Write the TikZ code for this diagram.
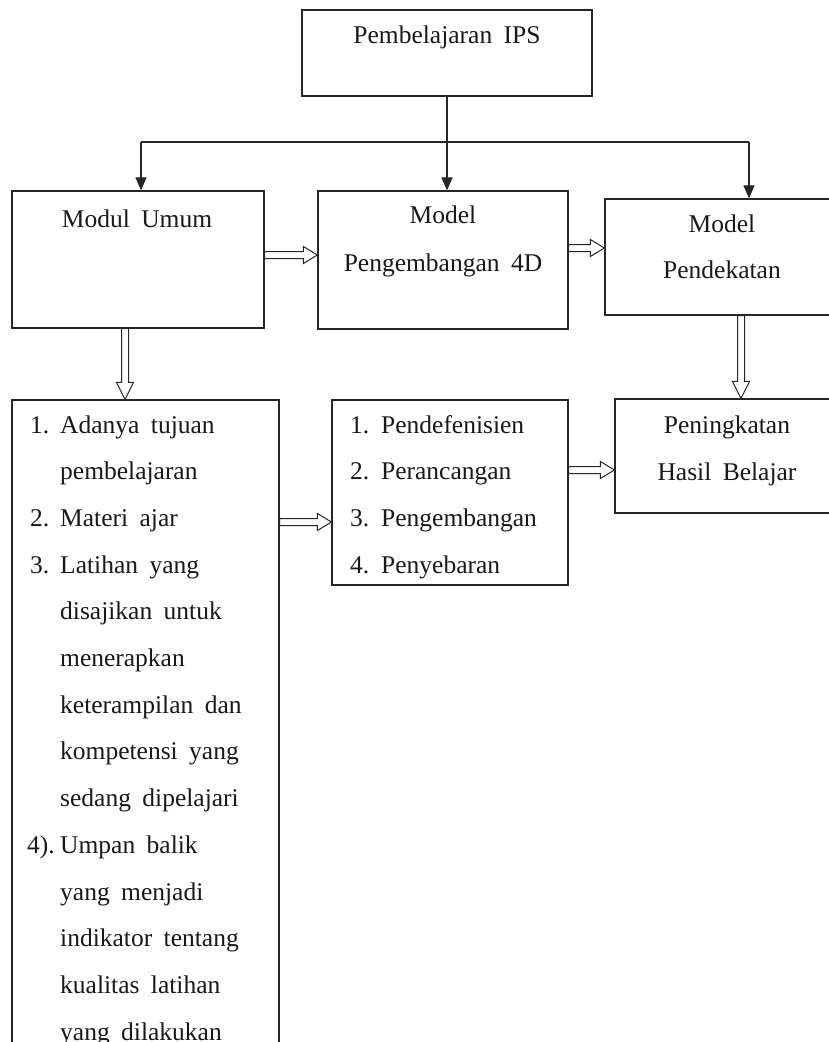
\documentclass[tikz,border=0pt]{standalone}
\usepackage{fontspec}
\setmainfont{Liberation Serif}
\usetikzlibrary{arrows.meta,calc}
\newcommand\dgfont{\fontsize{25.5}{46.7}\selectfont\spaceskip=0.45em plus 0.1em minus 0.05em\relax}
\begin{document}
\begin{tikzpicture}[x=1pt,y=-1pt,
  box/.style={draw=black!85, line width=1.2pt, inner sep=0pt, fill=white},
  txt/.style={anchor=base, inner sep=0pt, font=\dgfont, text=black!90},
  link/.style={draw=black!85, line width=1.1pt},
  tip/.style={link, -{Triangle[length=13pt,width=11pt]}},
  harrow/.style={draw=black!85, line width=1pt, fill=white,
    to path={let \p1=(\tikztostart), \p2=(\tikztotarget) in
      (\x1,\y1+3.5pt) -- (\x2-14pt,\y1+3.5pt) -- (\x2-14pt,\y1+8.5pt) -- (\x2,\y1)
      -- (\x2-14pt,\y1-8.5pt) -- (\x2-14pt,\y1-3.5pt) -- (\x1,\y1-3.5pt) -- cycle}},
  varrow/.style={draw=black!85, line width=1pt, fill=white,
    to path={let \p1=(\tikztostart), \p2=(\tikztotarget) in
      (\x1-3.5pt,\y1) -- (\x1-3.5pt,\y2+17pt) -- (\x1-8.5pt,\y2+17pt) -- (\x1,\y2)
      -- (\x1+8.5pt,\y2+17pt) -- (\x1+3.5pt,\y2+17pt) -- (\x1+3.5pt,\y1) -- cycle}}
]
\fill[white] (0,0) rectangle (829,1042);
\clip (0,0) rectangle (829,1042);

% boxes
\node[box, minimum width=290pt, minimum height=86pt]  (top)   at (447,53) {};
\node[box, minimum width=252pt, minimum height=137pt] (modul) at (138,259.5) {};
\node[box, minimum width=250pt, minimum height=138pt] (m4d)   at (443,260) {};
\node[box, minimum width=234pt, minimum height=116pt] (pend)  at (722,257) {};
\node[box, minimum width=267pt, minimum height=670pt] (list)  at (145.5,735) {};
\node[box, minimum width=236pt, minimum height=185pt] (steps) at (450,492.5) {};
\node[box, minimum width=224pt, minimum height=114pt] (pen)   at (727,456) {};

% texts
\node[txt] (t0) at (447,43) {Pembelajaran IPS};
\node[txt] (t1) at (137,227) {Modul Umum};
\node[txt] (t2) at (443,223) {\begin{tabular}[t]{@{}c@{}}Model\\[2pt]Pengembangan 4D\end{tabular}};
\node[txt] (t3) at (722,232) {\begin{tabular}[t]{@{}c@{}}Model\\Pendekatan\end{tabular}};
\node[txt] (t4) at (727,433) {\begin{tabular}[t]{@{}c@{}}Peningkatan\\[1pt]Hasil Belajar\end{tabular}};
\node[txt, anchor=base west] (t5) at (30,433) {\begin{tabular}[t]{@{}p{30pt}@{}l@{}}
1. & Adanya tujuan\\
   & pembelajaran\\
2. & Materi ajar\\
3. & Latihan yang\\
   & disajikan untuk\\
   & menerapkan\\
   & keterampilan dan\\
   & kompetensi yang\\
   & sedang dipelajari\\
\hspace*{-3pt}4). & Umpan balik\\
   & yang menjadi\\
   & indikator tentang\\
   & kualitas latihan\\
   & yang dilakukan
\end{tabular}};
\node[txt, anchor=base west] (t6) at (350,433) {\begin{tabular}[t]{@{}p{31pt}@{}l@{}}
1. & Pendefenisien\\
2. & Perancangan\\
3. & Pengembangan\\
4. & Penyebaran
\end{tabular}};

% single-line connectors
\coordinate (jl) at (141,142);
\coordinate (jr) at (749,142);
\draw[tip] (top.south) -- (top.south |- m4d.north);
\draw[link] (jl) -- (jr);
\draw[tip] (jl) -- (jl |- modul.north);
\draw[tip] (jr) -- (jr |- pend.north);

% hollow double arrows
\coordinate (ya) at (0,255);
\coordinate (yb) at (0,248);
\coordinate (yc) at (0,522);
\coordinate (yd) at (0,470);
\coordinate (xa) at (125,0);
\coordinate (xb) at (741,0);
\draw[harrow] (modul.east |- ya) to (m4d.west |- ya);
\draw[harrow] (m4d.east |- yb) to (pend.west |- yb);
\draw[harrow] (list.east |- yc) to (steps.west |- yc);
\draw[harrow] (steps.east |- yd) to (pen.west |- yd);
\draw[varrow] (modul.south -| xa) to (list.north -| xa);
\draw[varrow] (pend.south -| xb) to (pen.north -| xb);
\end{tikzpicture}
\end{document}
